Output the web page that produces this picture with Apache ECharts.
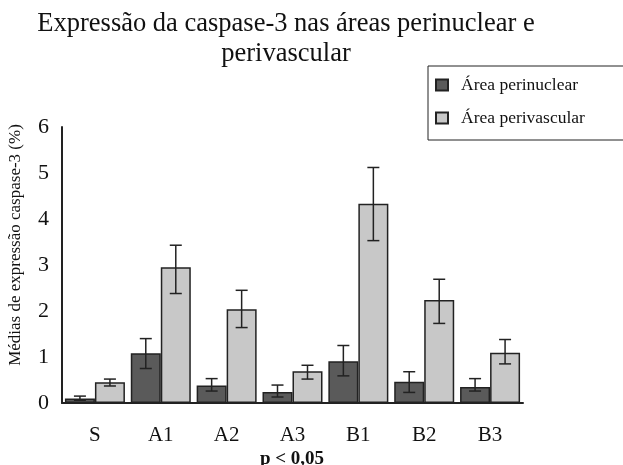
<!DOCTYPE html>
<html>
<head>
<meta charset="utf-8">
<script src="https://cdn.jsdelivr.net/npm/echarts@6/dist/echarts.min.js"></script>
<style>
  html, body { margin: 0; padding: 0; background: #fff; }
  #main { width: 623px; height: 465px; }
</style>
</head>
<body>
<div id="main"></div>
<script>
// grupos e valores
var categorias = ['S', 'A1', 'A2', 'A3', 'B1', 'B2', 'B3'];
var perinuclear = [0.10, 1.08, 0.38, 0.24, 0.91, 0.46, 0.35];
var perivascular = [0.45, 2.95, 2.04, 0.69, 4.33, 2.24, 1.09];
// barras de erro (limite inferior / superior)
var perinuclearBaixo = [0.06, 0.75, 0.26, 0.13, 0.59, 0.23, 0.26];
var perinuclearAlto = [0.15, 1.40, 0.53, 0.39, 1.25, 0.68, 0.53];
var perivascularBaixo = [0.37, 2.38, 1.64, 0.52, 3.53, 1.73, 0.85];
var perivascularAlto = [0.52, 3.43, 2.45, 0.82, 5.12, 2.69, 1.38];

var serif = '"Liberation Serif", "DejaVu Serif", serif';
var larguraBarra = 30;

// desenha as barras de erro deslocadas para cima de cada barra
function erro(baixo, alto, desloc) {
  var dados = categorias.map(function (c, i) { return [i, baixo[i], alto[i]]; });
  return {
    type: 'custom',
    data: dados,
    z: 10,
    silent: true,
    renderItem: function (params, api) {
      var p1 = api.coord([api.value(0), api.value(1)]);
      var p2 = api.coord([api.value(0), api.value(2)]);
      var x = p1[0] + desloc;
      var w = 6;
      var st = { stroke: '#222', lineWidth: 1.5 };
      return {
        type: 'group',
        children: [
          { type: 'line', shape: { x1: x, y1: p1[1], x2: x, y2: p2[1] }, style: st },
          { type: 'line', shape: { x1: x - w, y1: p1[1], x2: x + w, y2: p1[1] }, style: st },
          { type: 'line', shape: { x1: x - w, y1: p2[1], x2: x + w, y2: p2[1] }, style: st }
        ]
      };
    }
  };
}

var chart = echarts.init(document.getElementById('main'));
chart.setOption({
  animation: false,
  backgroundColor: '#fff',
  title: {
    text: 'Expressão da caspase-3 nas áreas perinuclear e\nperivascular',
    left: 281,
    top: 4,
    textAlign: 'center',
    textStyle: { fontFamily: serif, fontSize: 26.5, fontWeight: 'normal', color: '#111', lineHeight: 30 }
  },
  legend: {
    data: ['Área perinuclear', 'Área perivascular'],
    orient: 'vertical',
    left: 428,
    top: 66,
    itemWidth: 12,
    itemHeight: 11,
    itemGap: 15,
    padding: [10, 40, 13, 7],
    borderColor: '#222',
    borderWidth: 1,
    icon: 'rect',
    textStyle: { fontFamily: serif, fontSize: 17.5, color: '#111', padding: [0, 0, 0, 8] }
  },
  grid: { left: 62, right: 100, top: 127, bottom: 62 },
  xAxis: {
    type: 'category',
    data: categorias,
    axisLine: { lineStyle: { color: '#222', width: 2 } },
    axisTick: { show: false },
    axisLabel: { fontFamily: serif, fontSize: 21, color: '#111', margin: 22 }
  },
  yAxis: {
    type: 'value',
    min: 0,
    max: 6,
    interval: 1,
    axisLine: { show: true, lineStyle: { color: '#222', width: 2 } },
    axisTick: { show: false },
    splitLine: { show: false },
    axisLabel: { fontFamily: serif, fontSize: 22, color: '#111', margin: 13 }
  },
  graphic: [
    {
      type: 'text',
      x: 16, y: 245,
      rotation: Math.PI / 2,
      style: {
        text: 'Médias de expressão caspase-3 (%)',
        font: '17px ' + serif,
        fill: '#111',
        textAlign: 'center',
        textVerticalAlign: 'middle'
      }
    },
    {
      type: 'text',
      x: 292, y: 459,
      style: {
        text: 'p < 0,05',
        font: 'bold 19px ' + serif,
        fill: '#111',
        textAlign: 'center',
        textVerticalAlign: 'middle'
      }
    }
  ],
  series: [
    {
      name: 'Área perinuclear',
      type: 'bar',
      data: perinuclear,
      barWidth: larguraBarra,
      barGap: '0%',
      itemStyle: { color: '#5a5a5a', borderColor: '#222', borderWidth: 1.5 }
    },
    {
      name: 'Área perivascular',
      type: 'bar',
      data: perivascular,
      barWidth: larguraBarra,
      itemStyle: { color: '#c8c8c8', borderColor: '#222', borderWidth: 1.5 }
    },
    erro(perinuclearBaixo, perinuclearAlto, -larguraBarra / 2),
    erro(perivascularBaixo, perivascularAlto, larguraBarra / 2)
  ]
});
</script>
</body>
</html>
